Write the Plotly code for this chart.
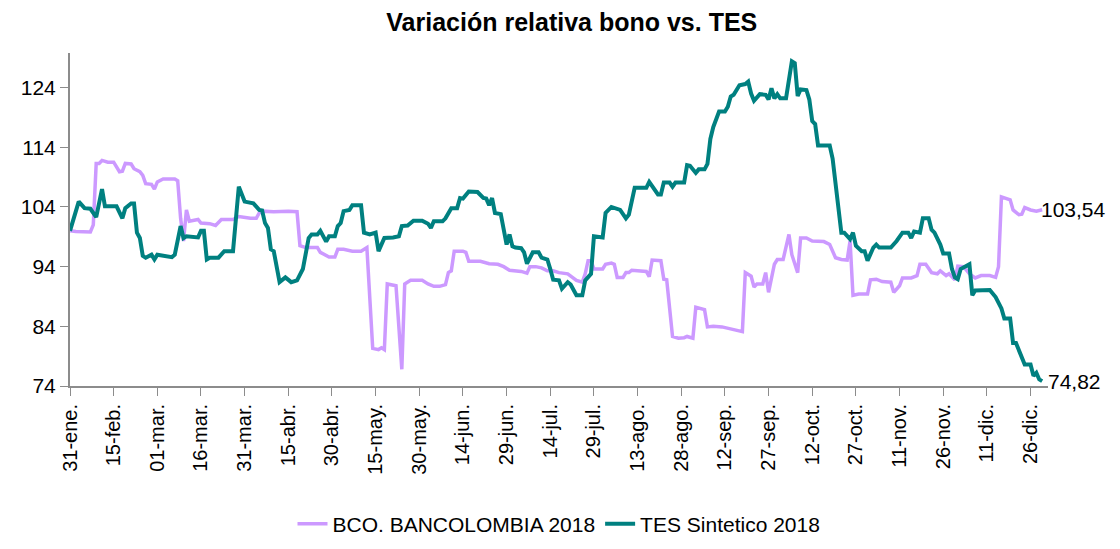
import pandas as pd
import plotly.graph_objects as go

base = pd.Timestamp("2016-01-31")

# dias desde 31-ene y valor
bco_days = [0, 2, 7, 8, 9, 10, 11, 13, 15, 17, 18, 19, 21, 22, 24, 25, 26, 28, 29, 30,
            32, 36, 37, 38, 39, 40, 41, 44, 45, 48, 50, 52, 56, 58, 62, 64, 65, 66, 70, 75,
            78, 79, 81, 85, 86, 89, 91, 92, 94, 97, 100, 102, 104, 106, 107, 108, 109, 111, 112, 114,
            115, 117, 121, 123, 125, 127, 129, 130, 131, 132, 135, 136, 137, 141, 144, 147, 149, 151, 155, 157,
            158, 160, 162, 164, 166, 168, 170, 171, 174, 176, 177, 178, 179, 180, 183, 184, 186, 187, 188, 190,
            191, 192, 193, 198, 199, 200, 203, 204, 205, 207, 209, 211, 212, 214, 215, 217, 218, 219, 221, 224,
            227, 231, 232, 234, 235, 236, 238, 239, 240, 242, 243, 245, 247, 248, 250, 251, 253, 255, 259, 261,
            263, 265, 267, 268, 269, 271, 274, 275, 277, 279, 282, 283, 285, 286, 289, 291, 292, 294, 296, 298,
            299, 301, 302, 304, 305, 306, 307, 309, 311, 313, 316, 318, 319, 320, 321, 323, 324, 326, 327, 328,
            330, 332, 334]
bco_vals = [100.0, 99.9, 99.8, 101.0, 111.3, 111.3, 111.8, 111.5, 111.5, 109.9, 110.0, 111.3, 111.2, 110.4, 109.9, 109.3, 107.9, 107.8, 107.0, 108.2,
            108.7, 108.7, 108.4, 102.1, 98.3, 103.5, 101.6, 101.9, 101.3, 101.2, 100.9, 101.9, 101.9, 102.4, 102.1, 102.1, 103.0, 103.3, 103.2, 103.3,
            103.2, 97.5, 97.2, 97.2, 96.4, 95.6, 95.6, 96.9, 96.9, 96.6, 96.6, 97.2, 80.3, 80.1, 80.4, 80.1, 91.1, 90.8, 90.8, 76.8,
            91.1, 91.7, 91.7, 91.1, 90.7, 90.7, 91.0, 93.0, 93.3, 96.6, 96.6, 96.4, 94.9, 94.9, 94.5, 94.4, 94.0, 93.4, 93.2, 92.9,
            94.0, 94.0, 93.8, 93.3, 93.3, 93.0, 92.8, 92.8, 91.7, 91.4, 92.8, 95.0, 95.0, 93.6, 93.6, 94.4, 94.6, 94.4, 92.2, 92.2,
            93.0, 93.0, 93.4, 93.2, 92.3, 95.1, 95.0, 91.9, 91.8, 82.3, 82.0, 82.1, 82.3, 82.0, 87.2, 87.0, 86.8, 83.9, 84.0, 83.9,
            83.5, 83.1, 93.0, 92.4, 90.6, 91.1, 91.1, 93.0, 89.7, 94.4, 95.2, 95.2, 99.4, 96.0, 93.0, 98.8, 98.8, 98.3, 98.2, 97.7,
            95.5, 95.2, 95.1, 98.3, 89.2, 89.4, 89.4, 91.8, 91.9, 91.5, 91.4, 89.7, 90.8, 92.1, 92.1, 92.5, 94.4, 94.4, 93.0, 92.8,
            93.3, 92.5, 92.8, 91.8, 94.1, 94.1, 94.0, 92.8, 92.1, 92.5, 92.5, 92.2, 94.0, 105.7, 105.5, 105.2, 103.5, 102.7, 102.8, 103.9,
            103.5, 103.3, 103.54]

tes_days = [0, 3, 5, 7, 9, 10, 11, 12, 16, 18, 19, 21, 22, 23, 24, 25, 26, 28, 29, 30,
            33, 35, 36, 38, 39, 40, 44, 45, 46, 47, 48, 51, 53, 56, 58, 60, 63, 65, 66, 67,
            68, 69, 70, 72, 74, 76, 78, 80, 82, 83, 85, 86, 88, 89, 91, 92, 93, 94, 96, 97,
            100, 101, 103, 105, 106, 108, 111, 113, 114, 116, 118, 121, 123, 124, 125, 128, 129, 131, 133, 134,
            135, 136, 137, 140, 142, 143, 144, 145, 146, 148, 150, 151, 152, 153, 155, 156, 157, 159, 161, 162,
            164, 165, 166, 168, 169, 171, 172, 174, 176, 177, 179, 180, 183, 184, 186, 189, 191, 192, 194, 198,
            199, 202, 203, 204, 206, 207, 208, 211, 212, 213, 215, 216, 218, 219, 220, 221, 223, 225, 226, 227,
            228, 230, 232, 233, 234, 235, 237, 239, 240, 241, 242, 243, 244, 246, 247, 248, 249, 250, 251, 253,
            254, 255, 256, 257, 261, 262, 265, 266, 268, 269, 270, 272, 273, 274, 276, 277, 278, 282, 284, 286,
            288, 289, 290, 292, 293, 295, 296, 297, 299, 300, 302, 303, 304, 305, 306, 309, 310, 311, 316, 318,
            320, 321, 323, 324, 325, 327, 328, 330, 331, 332, 333, 334]
tes_vals = [100.0, 104.9, 103.8, 103.7, 102.3, 104.3, 107.0, 104.1, 104.1, 102.1, 103.8, 104.6, 104.6, 99.7, 98.8, 95.8, 95.5, 96.0, 95.2, 96.0,
            95.8, 95.6, 96.0, 100.8, 98.8, 99.1, 98.9, 100.0, 100.0, 95.2, 95.5, 95.5, 96.6, 96.6, 107.4, 104.9, 104.6, 103.5, 103.4, 101.3,
            100.5, 96.9, 96.6, 91.4, 92.2, 91.4, 91.7, 93.6, 98.8, 99.4, 99.4, 100.0, 98.2, 99.1, 99.1, 100.8, 101.3, 103.3, 103.5, 104.3,
            104.3, 99.7, 99.4, 99.7, 96.6, 98.8, 98.9, 99.1, 100.8, 100.9, 101.7, 101.7, 101.2, 100.5, 101.6, 101.6, 102.1, 103.8, 103.8, 105.5,
            105.4, 106.0, 106.6, 106.5, 105.5, 105.4, 104.3, 105.5, 103.0, 102.8, 97.7, 99.4, 97.4, 97.2, 97.1, 96.4, 94.5, 96.4, 96.4, 95.5,
            95.2, 93.6, 91.8, 91.7, 90.3, 91.4, 91.0, 89.2, 89.2, 91.7, 92.8, 99.1, 98.9, 103.0, 104.0, 103.5, 102.1, 102.7, 107.2, 107.2,
            108.2, 106.1, 106.1, 108.1, 108.1, 107.4, 108.1, 108.1, 111.0, 110.9, 109.7, 110.3, 110.3, 111.2, 115.4, 117.4, 120.0, 120.0, 120.8, 122.5,
            122.8, 124.4, 124.6, 125.0, 123.0, 121.8, 122.9, 122.8, 122.0, 123.9, 122.2, 122.9, 122.2, 122.2, 125.3, 128.4, 128.1, 122.6, 123.7, 123.6,
            122.0, 118.4, 117.9, 114.3, 114.3, 112.1, 99.7, 99.7, 98.6, 99.7, 97.5, 96.6, 96.6, 95.0, 97.2, 97.7, 97.2, 97.2, 98.3, 99.7,
            99.7, 98.8, 99.9, 99.7, 102.1, 102.1, 100.2, 99.7, 97.7, 96.2, 96.2, 93.6, 92.2, 91.9, 93.6, 94.4, 89.2, 90.0, 90.1, 88.9,
            87.0, 85.3, 85.3, 81.2, 81.2, 79.0, 77.6, 77.6, 75.7, 76.2, 75.1, 74.82]

tick_labels = ["31-ene.", "15-feb.", "01-mar.", "16-mar.", "31-mar.", "15-abr.", "30-abr.", "15-may.",
               "30-may.", "14-jun.", "29-jun.", "14-jul.", "29-jul.", "13-ago.", "28-ago.", "12-sep.",
               "27-sep.", "12-oct.", "27-oct.", "11-nov.", "26-nov.", "11-dic.", "26-dic."]

bco_x = [base + pd.Timedelta(days=d) for d in bco_days]
tes_x = [base + pd.Timedelta(days=d) for d in tes_days]
tick_x = pd.date_range(base, periods=len(tick_labels), freq="15D")

font = "Liberation Sans, Arial"

fig = go.Figure()
fig.add_trace(go.Scatter(x=bco_x, y=bco_vals, mode="lines", name="BCO. BANCOLOMBIA 2018",
                         line=dict(color="#CC99FF", width=3.5)))
fig.add_trace(go.Scatter(x=tes_x, y=tes_vals, mode="lines", name="TES Sintetico 2018",
                         line=dict(color="#008080", width=4)))

fig.add_annotation(x=bco_x[-1], y=bco_vals[-1], text="103,54", showarrow=False,
                   xanchor="left", xshift=-3, font=dict(size=21, color="black", family=font))
fig.add_annotation(x=tes_x[-1], y=tes_vals[-1], text="74,82", showarrow=False,
                   xanchor="left", xshift=4, font=dict(size=21, color="black", family=font))

# el body de la pagina corre el grafico 8px a la derecha y hacia abajo
fig.update_layout(
    width=1112, height=549,
    plot_bgcolor="white", paper_bgcolor="white",
    margin=dict(l=62, r=72, t=45, b=167),
    title=dict(text="<b>Variación relativa bono vs. TES</b>", x=0.507, xanchor="center",
               y=0.9745, yanchor="middle", font=dict(family=font, size=25, color="black")),
    showlegend=True,
    legend=dict(orientation="h", x=0.5, xanchor="center", y=-0.415, yanchor="middle",
                font=dict(family=font, size=21, color="black")),
)
fig.update_xaxes(
    type="date", automargin=False,
    range=[base, base + pd.Timedelta(days=336)],
    tickvals=tick_x, ticktext=tick_labels, tickangle=-90,
    ticks="outside", ticklen=8, tickcolor="#8c8c8c",
    showline=True, linecolor="#8c8c8c", linewidth=2,
    showgrid=False, zeroline=False,
    tickfont=dict(family=font, size=20, color="black"),
)
fig.update_yaxes(
    automargin=False,
    range=[74, 129.8],
    tickvals=[74, 84, 94, 104, 114, 124],
    ticks="outside", ticklen=8, tickcolor="#8c8c8c",
    showline=True, linecolor="#8c8c8c", linewidth=2,
    showgrid=False, zeroline=False,
    tickfont=dict(family=font, size=21, color="black"),
)

fig.write_html("out.html")
